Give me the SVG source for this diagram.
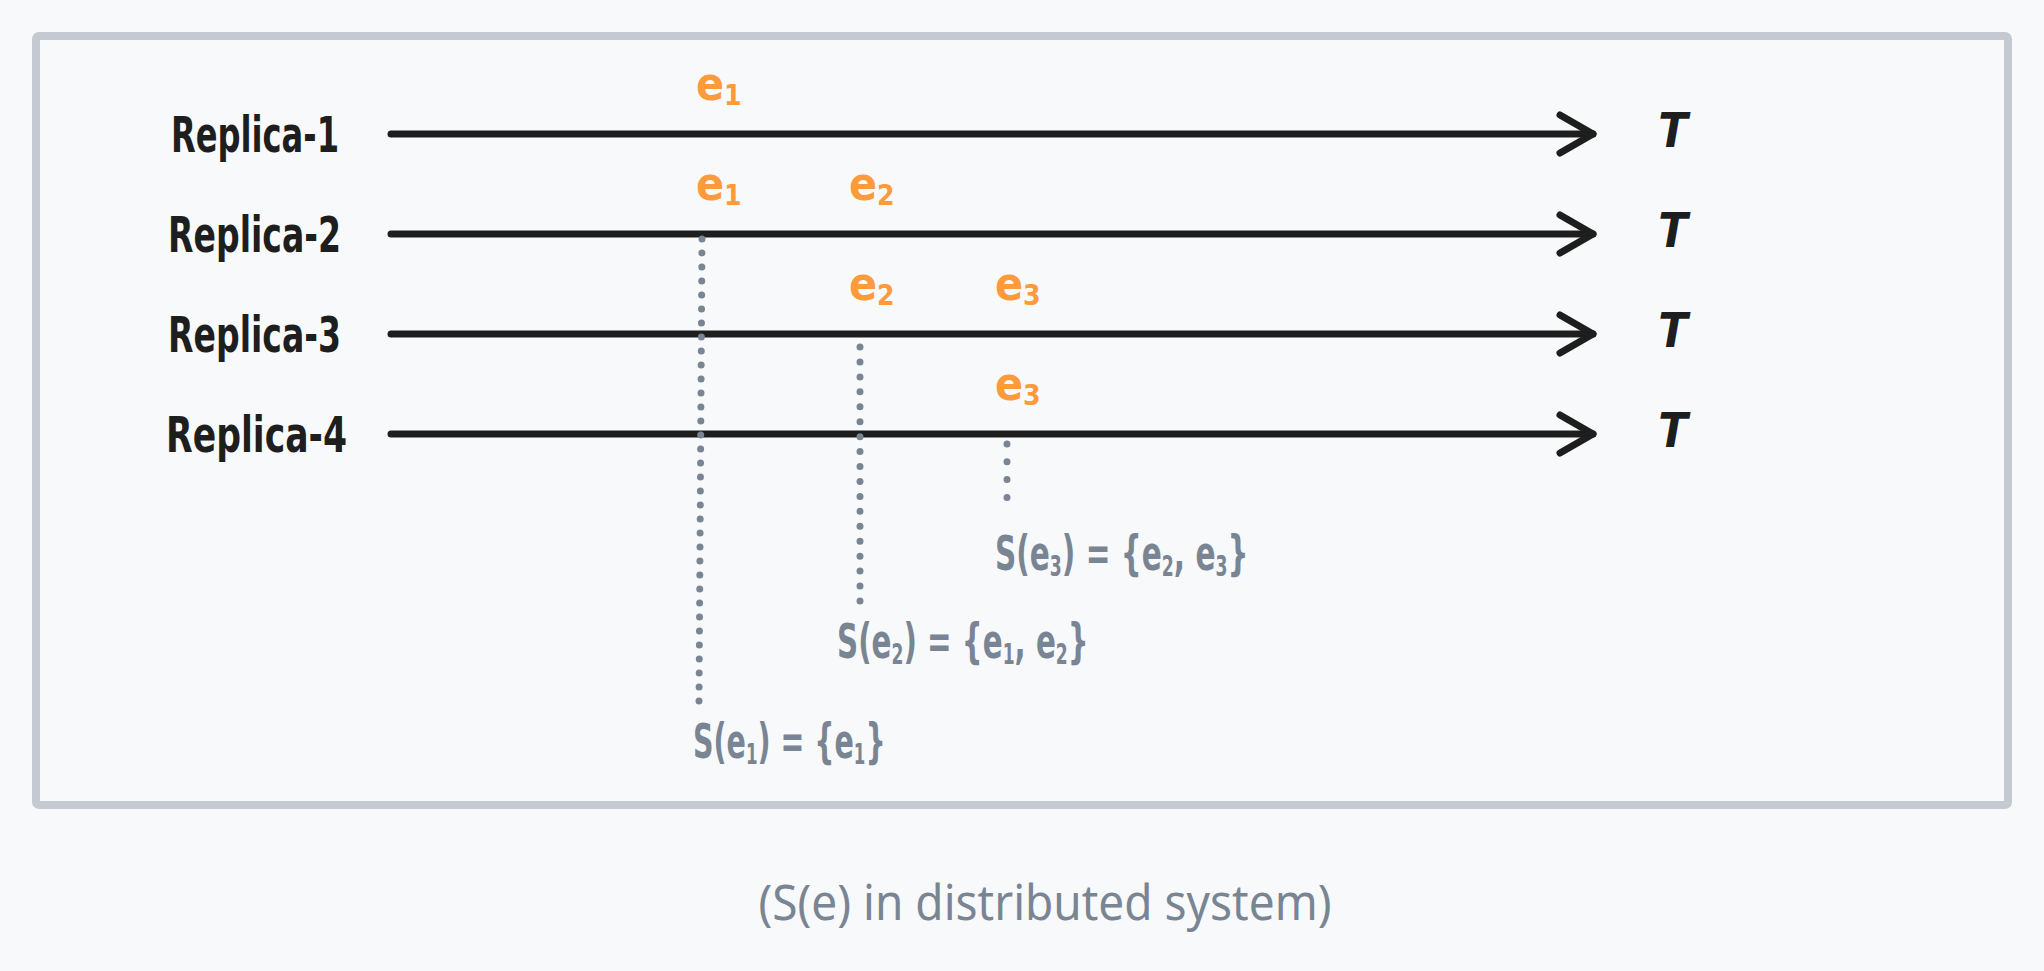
<svg xmlns="http://www.w3.org/2000/svg" width="2044" height="971" viewBox="0 0 2044 971">
<style>
.bg{fill:#f8f9fb}
.frame{fill:#f8f9fb;stroke:#c5cad2;stroke-width:8}
.tl{stroke:#1e1e1e;stroke-width:7;stroke-linecap:round;fill:none}
.dot{stroke:#7a8594;stroke-width:7;stroke-linecap:round;fill:none}
.lbl{font-family:'DejaVu Sans Condensed','DejaVu Sans',sans-serif;font-stretch:condensed;font-weight:bold;font-size:50px;fill:#1e1e1e}
.tt{font-family:'DejaVu Sans Condensed','DejaVu Sans',sans-serif;font-stretch:condensed;font-style:italic;font-weight:bold;font-size:48px;fill:#1e1e1e}
.ev{font-family:'DejaVu Sans Condensed','DejaVu Sans',sans-serif;font-stretch:condensed;font-weight:bold;font-size:46px;fill:#fd9a3c}
.fm{font-family:'DejaVu Sans Condensed','DejaVu Sans',sans-serif;font-stretch:condensed;font-weight:bold;font-size:48px;fill:#7a8594}
.sub{font-size:28px}
.cap{font-family:'Noto Sans','Open Sans',sans-serif;font-size:50px;fill:#7a8594}
</style>
<defs>
<marker id="arr" markerUnits="userSpaceOnUse" markerWidth="60" markerHeight="60" viewBox="-45 -30 60 60" refX="0" refY="0" orient="auto" overflow="visible">
<path d="M -33 -19 L 0 0 L -33 19" fill="none" stroke="#1e1e1e" stroke-width="7" stroke-linecap="round" stroke-linejoin="round"/>
</marker>
</defs>
<rect class="bg" x="0" y="0" width="2044" height="971"/>
<rect class="frame" x="36" y="36" width="1972" height="769" rx="3"/>

<g id="connectors">
<line class="tl" x1="391" y1="134" x2="1593" y2="134" marker-end="url(#arr)"/>
<line class="tl" x1="391" y1="234" x2="1593" y2="234" marker-end="url(#arr)"/>
<line class="tl" x1="391" y1="334" x2="1593" y2="334" marker-end="url(#arr)"/>
<line class="tl" x1="391" y1="434" x2="1593" y2="434" marker-end="url(#arr)"/>
<line class="dot" x1="702" y1="239" x2="699" y2="701" stroke-dasharray="0 14"/>
<line class="dot" x1="860" y1="347" x2="860" y2="601" stroke-dasharray="0 14.94"/>
<line class="dot" x1="1007" y1="444" x2="1007" y2="498" stroke-dasharray="0 17.8"/>
</g>

<g id="replica-1"><text class="lbl" x="171" y="152" textLength="168" lengthAdjust="spacingAndGlyphs">Replica-1</text></g>
<g id="replica-2"><text class="lbl" x="168" y="252" textLength="173" lengthAdjust="spacingAndGlyphs">Replica-2</text></g>
<g id="replica-3"><text class="lbl" x="168" y="352" textLength="173" lengthAdjust="spacingAndGlyphs">Replica-3</text></g>
<g id="replica-4"><text class="lbl" x="166" y="452" textLength="181" lengthAdjust="spacingAndGlyphs">Replica-4</text></g>

<g id="t-1"><text class="tt" x="1673" y="147" text-anchor="middle">T</text></g>
<g id="t-2"><text class="tt" x="1673" y="247" text-anchor="middle">T</text></g>
<g id="t-3"><text class="tt" x="1673" y="347" text-anchor="middle">T</text></g>
<g id="t-4"><text class="tt" x="1673" y="447" text-anchor="middle">T</text></g>

<g id="ev-r1-e1"><text class="ev" x="696" y="100">e<tspan class="sub" dy="5">1</tspan></text></g>
<g id="ev-r2-e1"><text class="ev" x="696" y="200">e<tspan class="sub" dy="5">1</tspan></text></g>
<g id="ev-r2-e2"><text class="ev" x="849" y="200">e<tspan class="sub" dy="5">2</tspan></text></g>
<g id="ev-r3-e2"><text class="ev" x="849" y="300">e<tspan class="sub" dy="5">2</tspan></text></g>
<g id="ev-r3-e3"><text class="ev" x="995" y="300">e<tspan class="sub" dy="5">3</tspan></text></g>
<g id="ev-r4-e3"><text class="ev" x="995" y="400">e<tspan class="sub" dy="5">3</tspan></text></g>

<g id="s-e3" transform="translate(995,570) scale(0.685,1)"><text class="fm" x="0" y="0">S(e<tspan class="sub" dy="6">3</tspan><tspan dy="-6">) = {e</tspan><tspan class="sub" dy="6">2</tspan><tspan dy="-6">, e</tspan><tspan class="sub" dy="6">3</tspan><tspan dy="-6">}</tspan></text></g>
<g id="s-e2" transform="translate(837,658) scale(0.68,1)"><text class="fm" x="0" y="0">S(e<tspan class="sub" dy="6">2</tspan><tspan dy="-6">) = {e</tspan><tspan class="sub" dy="6">1</tspan><tspan dy="-6">, e</tspan><tspan class="sub" dy="6">2</tspan><tspan dy="-6">}</tspan></text></g>
<g id="s-e1" transform="translate(693,758) scale(0.66,1)"><text class="fm" x="0" y="0">S(e<tspan class="sub" dy="6">1</tspan><tspan dy="-6">) = {e</tspan><tspan class="sub" dy="6">1</tspan><tspan dy="-6">}</tspan></text></g>

<g id="caption"><text class="cap" x="1045" y="920" text-anchor="middle" textLength="573" lengthAdjust="spacingAndGlyphs">(S(e) in distributed system)</text></g>
</svg>
